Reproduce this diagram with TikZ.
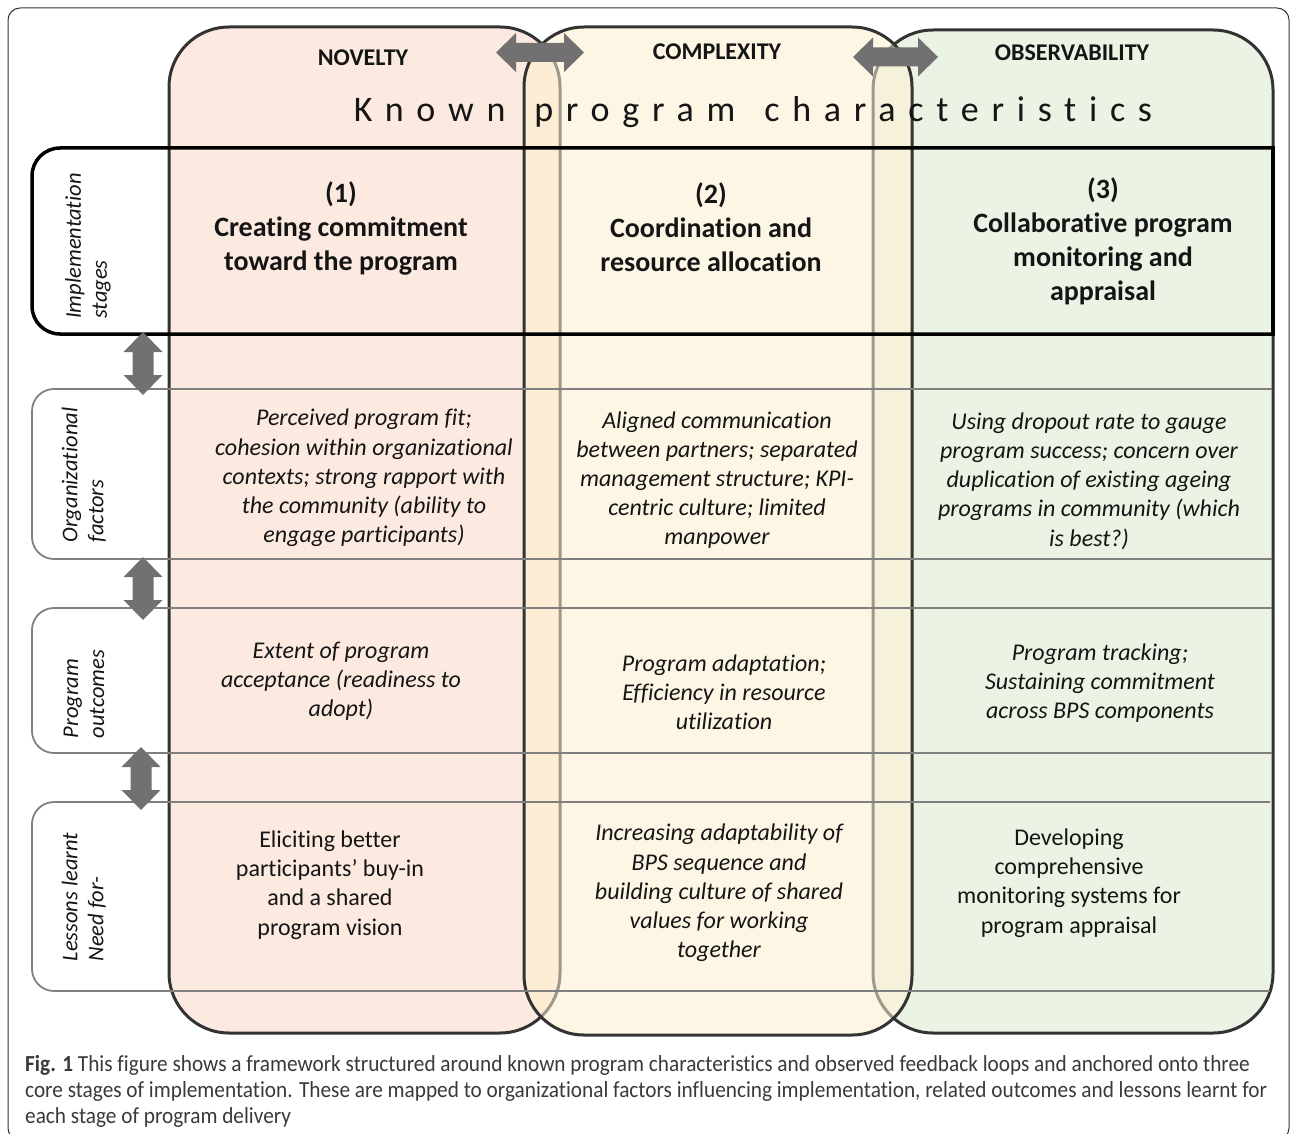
\documentclass[tikz,border=0pt]{standalone}
\usepackage{fontspec}
\setmainfont{Carlito}[Ligatures=NoCommon]
\newfontfamily\capfont{Carlito}[FakeStretch=0.925, Ligatures=NoCommon]
\newfontfamily\spacedfont{Carlito}[LetterSpace=35.4, Ligatures=NoCommon]
\definecolor{colA}{HTML}{FCEAE1}
\definecolor{colB}{HTML}{FEF6E4}
\definecolor{colC}{HTML}{EAF3E4}
\definecolor{ovAB}{HTML}{FDEDD5}
\definecolor{ovBC}{HTML}{F5F1DA}
\definecolor{bdark}{HTML}{333333}
\definecolor{blight}{HTML}{9E998D}
\definecolor{rowgray}{HTML}{808080}
\definecolor{arrgray}{HTML}{727070}
\definecolor{txt}{HTML}{151515}
\definecolor{captxt}{HTML}{3A3A3A}
\newcommand\BlockArrowV[3]{% x, ytop, ybot
  \fill[arrgray] (#1,#2) -- (#1+19.5,#2+20) -- (#1+10.5,#2+20) -- (#1+10.5,#3-20) -- (#1+19.5,#3-20) -- (#1,#3)
   -- (#1-19.5,#3-20) -- (#1-10.5,#3-20) -- (#1-10.5,#2+20) -- (#1-19.5,#2+20) -- cycle;}
\newcommand\BlockArrowH[3]{% xleft, xright, yc
  \fill[arrgray] (#1,#3) -- (#1+20,#3-19.5) -- (#1+20,#3-9.5) -- (#2-20,#3-9.5) -- (#2-20,#3-19.5) -- (#2,#3)
   -- (#2-20,#3+19.5) -- (#2-20,#3+9.5) -- (#1+20,#3+9.5) -- (#1+20,#3+19.5) -- cycle;}
\begin{document}
\begin{tikzpicture}[x=1pt,y=-1pt,
  colborder/.style={draw=bdark, line width=3pt},
  rowbox/.style={draw=rowgray, line width=1.8pt, rounded corners=22pt},
  header/.style={inner sep=0pt, text=txt, font=\fontsize{24}{26}\selectfont\bfseries},
  stagetitle/.style={inner sep=0pt, align=center, text=txt, font=\fontsize{28}{34}\selectfont\bfseries},
  celltext/.style={inner sep=0pt, align=center, text=txt, font=\fontsize{24}{29.2}\selectfont\itshape},
  celltextup/.style={inner sep=0pt, align=center, text=txt, font=\fontsize{24}{29.2}\selectfont},
  sidelabel/.style={inner sep=0pt, align=left, rotate=90, text=txt, font=\fontsize{22.5}{26}\selectfont\itshape},
  captionline/.style={inner sep=0pt, anchor=base west, text=captxt, font=\fontsize{23}{26}\selectfont\capfont}
]
\useasboundingbox (0,0) rectangle (1292,1134);
% outer frame
\draw[draw=bdark, line width=1pt, rounded corners=12pt] (8,8) rectangle (1289,1140);
% columns
\path[fill=colA, colborder, rounded corners=60pt] (169,27) rectangle (560,1033);
\path[fill=colC, colborder, rounded corners=60pt] (873,30) rectangle (1273,1033);
\fill[colB, rounded corners=60pt] (524,27) rectangle (912,1035);
\begin{scope}
  \clip[rounded corners=60pt] (524,27) rectangle (912,1035);
  \fill[ovAB, rounded corners=60pt] (169,27) rectangle (560,1033);
  \fill[ovBC, rounded corners=60pt] (873,30) rectangle (1273,1033);
  \draw[blight, line width=3pt, rounded corners=60pt] (169,27) rectangle (560,1033);
  \draw[blight, line width=3pt, rounded corners=60pt] (873,30) rectangle (1273,1033);
\end{scope}
\draw[colborder, rounded corners=60pt] (524,27) rectangle (912,1035);
% row boxes
\draw[rowbox] (1272,389) -- (32,389) -- (32,559) -- (1272,559);
\draw[rowbox] (1272,608) -- (32,608) -- (32,753) -- (1272,753);
\draw[rowbox] (1270,802) -- (32,802) -- (32,991) -- (1270,991);
% implementation stages band
\draw[black, line width=3.5pt, rounded corners=28pt] (1273,148) -- (32,148) -- (32,334) -- (1273,334);
\draw[black, line width=3.5pt, line cap=rect] (1273,148) -- (1273,334);
% arrows
\BlockArrowV{143}{332}{395}
\BlockArrowV{143}{557}{620}
\BlockArrowV{141}{747}{810}
\BlockArrowH{496}{584}{52.5}
\BlockArrowH{853}{938}{57}
% headers
\node[header] (hN) at (363,58) {NOVELTY};
\node[header] (hC) at (717,52) {COMPLEXITY};
\node[header] (hO) at (1072,53) {OBSERVABILITY};
\node[inner sep=0pt, text=txt, font=\fontsize{36}{40}\selectfont\spacedfont] (kpc) at (753,112) {Known\hspace{8pt} program\hspace{8pt} characteristics};
% stage titles
\node[stagetitle] (s1) at (341,228) {(1)\\Creating commitment\\toward the program};
\node[stagetitle] (s2) at (711,227) {(2)\\Coordination and\\resource allocation};
\node[stagetitle] (s3) at (1103,241) {(3)\\Collaborative program\\monitoring and\\appraisal};
% organizational factors
\node[celltext] (o1) at (364,478) {Perceived program fit;\\cohesion within organizational\\contexts; strong rapport with\\the community (ability to\\engage participants)};
\node[celltext] (o2) at (717,480) {Aligned communication\\between partners; separated\\management structure; KPI-\\centric culture; limited\\manpower};
\node[celltext] (o3) at (1089,481) {Using dropout rate to gauge\\program success; concern over\\duplication of existing ageing\\programs in community (which\\is best?)};
% outcomes
\node[celltext] (p1) at (341,681) {Extent of program\\acceptance (readiness to\\adopt)};
\node[celltext] (p2) at (724,692) {Program adaptation;\\Efficiency in resource\\utilization};
\node[celltext] (p3) at (1100,683) {Program tracking;\\Sustaining commitment\\across BPS components};
% lessons
\node[celltextup] (l1) at (330,885) {Eliciting better\\participants’ buy-in\\and a shared\\program vision};
\node[celltext] (l2) at (719,893) {Increasing adaptability of\\BPS sequence and\\building culture of shared\\values for working\\together};
\node[celltextup] (l3) at (1069,883) {Developing\\comprehensive\\monitoring systems for\\program appraisal};
% side labels
\node[sidelabel] (r1) at (88,246) {Implementation\\stages};
\node[sidelabel] (r2) at (84,475) {Organizational\\factors};
\node[sidelabel] (r3) at (84,694) {Program\\outcomes};
\node[sidelabel] (r4) at (84,897) {Lessons learnt\\Need for-};
% caption
\node[captionline] (c1) at (25,1071) {{\bfseries Fig. 1} This figure shows a framework structured around known program characteristics and observed feedback loops and anchored onto three};
\node[captionline] (c2) at (25,1097) {core stages of implementation. These are mapped to organizational factors influencing implementation, related outcomes and lessons learnt for};
\node[captionline] (c3) at (25,1123) {each stage of program delivery};
\end{tikzpicture}
\end{document}
